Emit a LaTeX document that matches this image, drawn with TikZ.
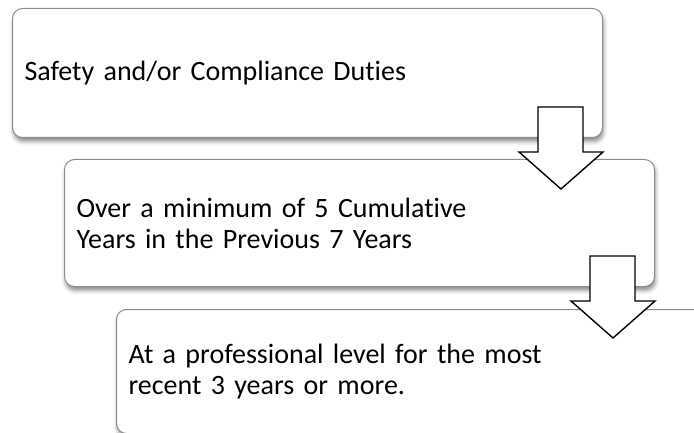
\documentclass[tikz,border=0pt]{standalone}
\usepackage{fontspec}
\setmainfont[Ligatures=NoCommon]{Carlito}
\usetikzlibrary{calc,positioning,shadows.blur}

\tikzset{
  stepbox/.style={rectangle,rounded corners=10pt,draw=gray!90,line width=1pt,fill=white,
    minimum width=590pt,minimum height=127pt,text width=566pt,inner xsep=12pt,
    align=left,anchor=north west,font=\fontsize{28}{31}\selectfont,
    blur shadow={shadow xshift=1pt,shadow yshift=-4pt,shadow blur radius=4pt,shadow opacity=45}},
  downarr/.pic={
    \draw[black,line width=1.4pt,fill=white,line join=miter]
      (-65,-31) -- (-20,-31) -- (-20,14) -- (0,14) -- (-42,51) -- (-84,14) -- (-65,14) -- cycle;
  }
}

\begin{document}
\begin{tikzpicture}[x=1pt,y=-1pt]

  \clip (0,0) rectangle (694,433);

  \node (box1) [stepbox,minimum height=129pt] at (12,8) {Safety and/or Compliance Duties};
  \node (box2) [stepbox] at ($(box1.south west)+(52,21)$) {Over a minimum of 5 Cumulative\\Years in the Previous 7 Years};
  \node (box3) [stepbox,minimum height=124pt] at ($(box2.south west)+(52,22)$) {At a professional level for the most\\recent 3 years or more.};

  \pic at (box1.south east) {downarr};
  \pic at (box2.south east) {downarr};

\end{tikzpicture}
\end{document}
